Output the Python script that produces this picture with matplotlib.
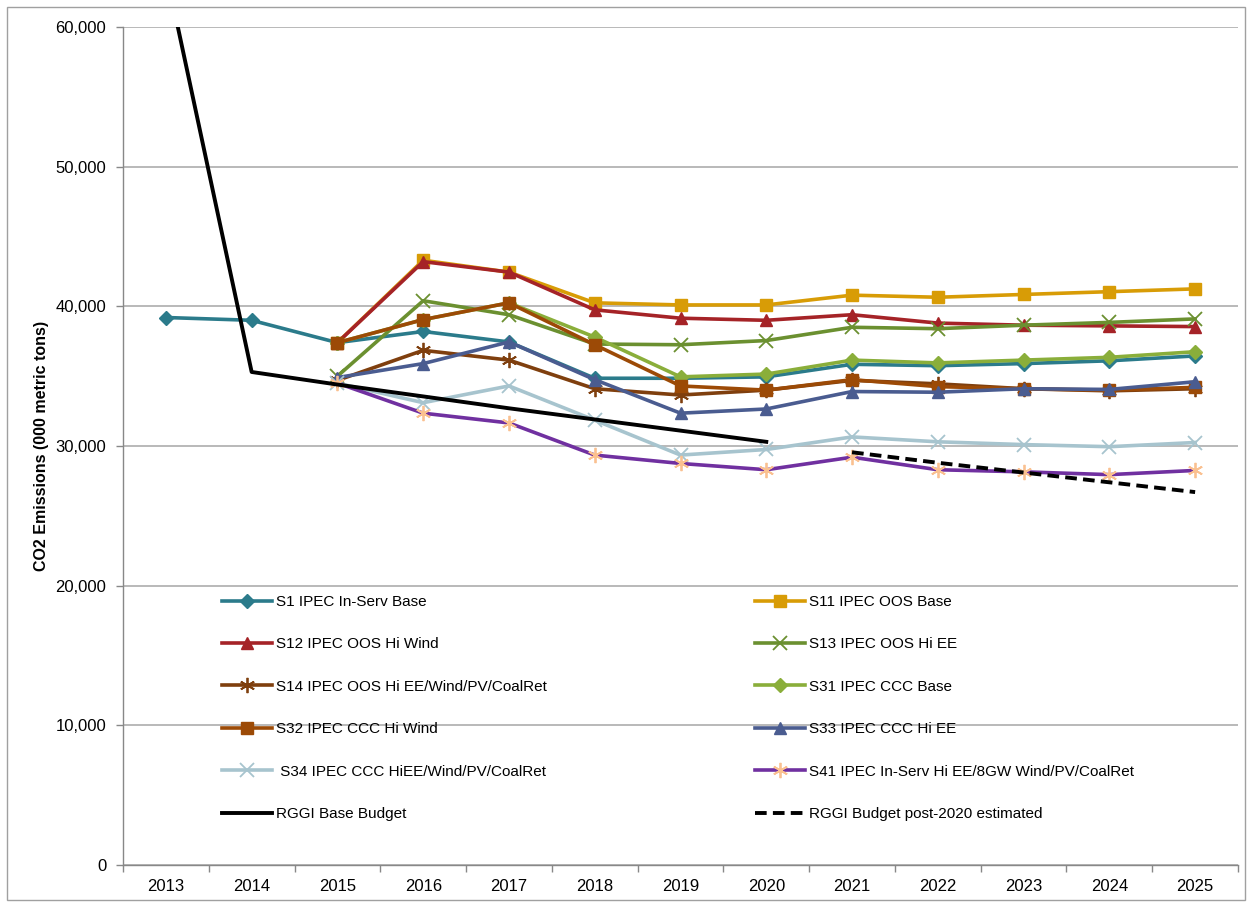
import numpy as np
import matplotlib
matplotlib.use('Agg')
import matplotlib.pyplot as plt
from matplotlib.patches import Rectangle

plt.rcParams['font.family'] = ['Liberation Sans', 'DejaVu Sans']

nan = np.nan
years = ['2013', '2014', '2015', '2016', '2017', '2018', '2019',
         '2020', '2021', '2022', '2023', '2024', '2025']

s1 = [39200, 39000, 37400, 38200, 37450, 34850, 34850, 34950, 35850, 35750, 35900, 36100, 36450]
s11 = [nan, nan, 37400, 43300, 42450, 40250, 40100, 40100, 40800, 40650, 40850, 41050, 41250]
s12 = [nan, nan, 37400, 43200, 42450, 39750, 39150, 39000, 39400, 38800, 38650, 38600, 38550]
s13 = [nan, nan, 35000, 40400, 39400, 37300, 37250, 37550, 38500, 38400, 38650, 38850, 39100]
s14 = [nan, nan, 34700, 36850, 36150, 34100, 33650, 34000, 34700, 34450, 34100, 33950, 34100]
s31 = [nan, nan, 37400, 39050, 40250, 37800, 34950, 35150, 36150, 35950, 36150, 36350, 36750]
s32 = [nan, nan, 37400, 39050, 40250, 37250, 34300, 34000, 34750, 34250, 34100, 34000, 34200]
s33 = [nan, nan, 34900, 35900, 37450, 34750, 32350, 32650, 33900, 33850, 34100, 34050, 34600]
s34 = [nan, nan, 34500, 33100, 34300, 31850, 29350, 29750, 30650, 30300, 30100, 29950, 30250]
s41 = [nan, nan, 34500, 32350, 31650, 29350, 28750, 28300, 29200, 28300, 28150, 27950, 28250]
rggi_base = [64000, 35300, 34400, 33550, 32700, 31900, 31100, 30300, nan, nan, nan, nan, nan]
rggi_post = [nan, nan, nan, nan, nan, nan, nan, nan, 29550, 28800, 28100, 27400, 26700]

fig = plt.figure(figsize=(12.52, 9.07), dpi=100)
ax = fig.add_axes([123 / 1252, 1 - 865 / 907, 1115 / 1252, 838 / 907])

x = np.arange(len(years))
star = (6, 2, 0)
lw = 2.6

l1, = ax.plot(x, s1, color='#2B7B8B', lw=lw, marker='D', ms=7, label='S1 IPEC In-Serv Base')
l11, = ax.plot(x, s11, color='#D89C06', lw=lw, marker='s', ms=9, label='S11 IPEC OOS Base')
l12, = ax.plot(x, s12, color='#A52327', lw=lw, marker='^', ms=9, label='S12 IPEC OOS Hi Wind')
l13, = ax.plot(x, s13, color='#6B9030', lw=lw, marker='x', ms=10, mew=1.3, label='S13 IPEC OOS Hi EE')
l14, = ax.plot(x, s14, color='#7F3F0E', lw=lw, marker=star, ms=11, mew=1.3,
               label='S14 IPEC OOS Hi EE/Wind/PV/CoalRet')
l31, = ax.plot(x, s31, color='#8AAE3A', lw=lw, marker='D', ms=7, label='S31 IPEC CCC Base')
l32, = ax.plot(x, s32, color='#9C4A06', lw=lw, marker='s', ms=9, label='S32 IPEC CCC Hi Wind')
l33, = ax.plot(x, s33, color='#4A5C90', lw=lw, marker='^', ms=9, label='S33 IPEC CCC Hi EE')
l34, = ax.plot(x, s34, color='#A7C4CE', lw=lw, marker='x', ms=10, mew=1.3,
               label=' S34 IPEC CCC HiEE/Wind/PV/CoalRet')
l41, = ax.plot(x, s41, color='#7030A0', lw=lw, marker=star, ms=11, mew=1.3,
               mfc='#FAC090', mec='#FAC090', label='S41 IPEC In-Serv Hi EE/8GW Wind/PV/CoalRet')
lb, = ax.plot(x, rggi_base, color='black', lw=2.8, label='RGGI Base Budget')
lp, = ax.plot(x, rggi_post, color='black', lw=2.8, ls=(0, (3, 1.6)),
              label='RGGI Budget post-2020 estimated')

ax.set_xlim(-0.5, len(years) - 0.5)
ax.set_ylim(0, 60000)
ax.set_yticks(np.arange(0, 60001, 10000))
ax.set_yticklabels(['{:,}'.format(v) for v in range(0, 60001, 10000)])
ax.yaxis.grid(True, color='#A6A6A6', lw=1.1)
ax.set_axisbelow(True)

ax.set_xticks(np.arange(-0.5, len(years)), labels=[])
ax.set_xticks(x, labels=years, minor=True)
ax.tick_params(axis='x', which='major', length=5, color='#888888', width=1)
ax.tick_params(axis='x', which='minor', length=0, pad=10, labelsize=12)
ax.tick_params(axis='y', length=5, color='#888888', width=1, pad=7, labelsize=12)

for s in ['top', 'right']:
    ax.spines[s].set_visible(False)
for s in ['left', 'bottom']:
    ax.spines[s].set_color('#888888')
    ax.spines[s].set_linewidth(1)

ax.set_ylabel('CO2 Emissions (000 metric tons)', fontsize=11.5, fontweight='bold')
ax.yaxis.set_label_coords(-0.066, 0.5)

leg_kw = dict(frameon=False, fontsize=11, handlelength=3.27, handletextpad=0.26,
              labelspacing=1.86, borderpad=0, borderaxespad=0, loc='upper left',
              numpoints=1, bbox_transform=fig.transFigure)
leg1 = ax.legend(handles=[l1, l12, l14, l32, l34, lb],
                 bbox_to_anchor=(222 / 1252, 1 - 595 / 907), **leg_kw)
ax.add_artist(leg1)
ax.legend(handles=[l11, l13, l31, l33, l41, lp],
          bbox_to_anchor=(755 / 1252, 1 - 595 / 907), **leg_kw)

fig.patches.append(Rectangle((7 / 1252, 7 / 907), 1238 / 1252, 893 / 907, fill=False,
                             edgecolor='#A0A0A0', lw=1, transform=fig.transFigure))

fig.savefig('out.png', dpi=100)
